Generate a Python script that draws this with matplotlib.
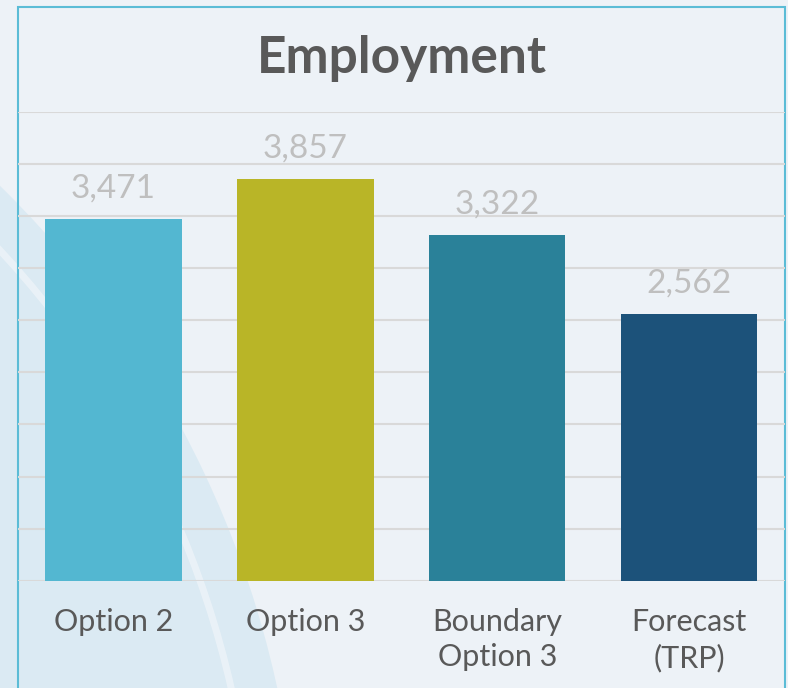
import matplotlib.pyplot as plt
from matplotlib.patches import Circle, Rectangle
from matplotlib.transforms import IdentityTransform

# employment figures per scenario
categories = ['Option 2', 'Option 3', 'Boundary\nOption 3', 'Forecast\n(TRP)']
employment = [3471, 3857, 3322, 2562]
bar_colors = ['#53b7d1', '#b9b527', '#2a8199', '#1c527a']
grid_ticks = list(range(0, 4501, 500))

W, H = 788, 688
plt.rcParams['font.family'] = ['Lato', 'DejaVu Sans']

fig = plt.figure(figsize=(W / 100, H / 100), dpi=100)
fig.patch.set_facecolor('#edf2f7')

# pale blue swoosh in the lower left corner of the backdrop
px = IdentityTransform()
fig.patches.append(Circle((-700, H - 900), 1000, transform=px,
                          facecolor='#dbeaf3', edgecolor='none', zorder=-3))
fig.patches.append(Circle((-700, H - 900), 955, transform=px, fill=False,
                          edgecolor='#f0f5f9', linewidth=5, alpha=0.7, zorder=-2))
# thin outline around the chart
fig.patches.append(Rectangle((17.5, -10), 767.5, H - 7 + 10, transform=px,
                             fill=False, edgecolor='#5bbcd6', linewidth=1.5, zorder=-1))

ax = fig.add_axes([17.5 / W, (H - 580.7) / H, 767.5 / W, (580.7 - 112) / H])
ax.set_facecolor('none')

x = range(len(categories))
ax.bar(x, employment, width=0.712, color=bar_colors, zorder=2)

for xi, val in zip(x, employment):
    ax.annotate(f'{val:,}', (xi, val), xytext=(0, 15.5), textcoords='offset points',
                ha='center', va='baseline', fontsize=24, color='#bfbfbf')

ax.set_xlim(-0.5, len(categories) - 0.5)
ax.set_ylim(0, 4500)
ax.set_yticks(grid_ticks)
ax.yaxis.grid(True, color='#d9d9d9', linewidth=1.5)
ax.set_axisbelow(True)
ax.tick_params(axis='y', left=False, labelleft=False)
ax.set_xticks(list(x))
ax.set_xticklabels(categories, fontsize=22, color='#595959', linespacing=1.3)
ax.tick_params(axis='x', length=0, pad=20)
for s in ax.spines.values():
    s.set_visible(False)

fig.text(402 / W, 1 - 58 / H, 'Employment', ha='center', va='center',
         fontsize=37, fontweight='bold', color='#595959')

fig.savefig('out.png', dpi=100, facecolor=fig.get_facecolor())
